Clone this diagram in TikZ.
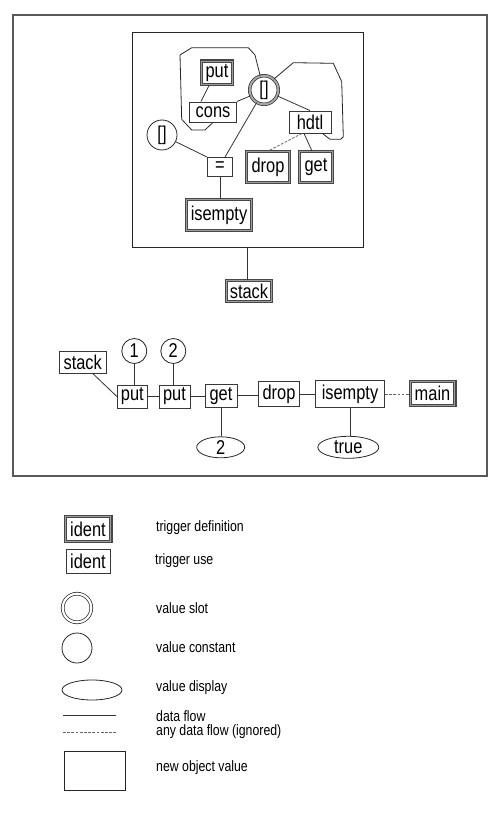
\documentclass[tikz,border=0pt]{standalone}
\usepackage{fontspec}
\setmainfont{Liberation Sans}[FakeStretch=0.82]
\usetikzlibrary{shapes.geometric}
\newcommand{\lblfont}{\fontsize{20}{22}\selectfont}
\newcommand{\legfont}{\fontsize{15}{17}\selectfont}
\tikzset{
  usebox/.style={draw=black!78, line width=0.9pt, inner sep=0pt, fill=white, font=\lblfont},
  defbox/.style={draw=black!72, line width=1.2pt, double=black!38, double distance=0.9pt, inner sep=0pt, fill=white, font=\lblfont},
  slotc/.style={circle, draw=black!80, line width=0.7pt, double=black!35, double distance=2pt, inner sep=0pt, minimum size=28.6, font=\lblfont},
  constc/.style={circle, draw=black!85, line width=0.8pt, inner sep=0pt, font=\lblfont},
  dispe/.style={ellipse, draw=black!85, line width=0.8pt, inner sep=0pt, font=\lblfont},
  objbox/.style={draw=black!85, line width=0.9pt, inner sep=0pt},
  frame/.style={draw=black!65, line width=1.1pt, inner sep=0pt},
  flow/.style={draw=black!80, line width=0.8pt},
  anyflow/.style={draw=black!60, line width=0.8pt, dash pattern=on 2.7pt off 1.5pt},
  blob/.style={draw=black!85, line width=0.8pt},
  legtext/.style={anchor=west, font=\legfont, inner sep=0pt},
}
\begin{document}
\begin{tikzpicture}[x=1pt,y=-1pt]
\useasboundingbox (0,0) rectangle (500,818);
% frames
\node[frame, minimum width=474, minimum height=461] (outer) at (250,245.5) {};
\node[objbox, minimum width=231, minimum height=215] (inner) at (247.5,139.5) {};
% top nodes
\node[defbox, minimum width=30.7, minimum height=23.7] (put) at (217,73) {put};
\node[usebox, minimum width=47, minimum height=20] (cons) at (213,112) {cons};
\node[slotc] (slot) at (264,90) {[]};
\node[usebox, minimum width=42, minimum height=22] (hdtl) at (310,122) {hdtl};
\node[constc, minimum size=30] (const) at (162,135) {[]};
\node[usebox, minimum width=25, minimum height=19] (eq) at (220,167) {=};
\node[defbox, minimum width=42.7, minimum height=30.7] (drop) at (268,167) {drop};
\node[defbox, minimum width=32.7, minimum height=30.7] (get) at (316,167) {get};
\node[defbox, minimum width=64.7, minimum height=30.7] (isempty) at (219,215) {isempty};
\node[defbox, minimum width=44.7, minimum height=20.7] (stackdef) at (249,291) {stack};
% blobs
\draw[blob] (cons.south) -- (205,130) -- (191.7,130) -- (181.7,119.3) -- (180,55) -- (191.7,47.7) -- (248.3,47.7) -- (255,55) -- (slot.105);
\draw[blob] (slot.48) -- (293.3,62.7) -- (333.3,63.3) -- (341.7,81.7) -- (343.3,136.7) -- (340.7,139.3) -- (330,139.3) -- ([xshift=-9]hdtl.south east);
% top edges
\draw[flow] ([xshift=-8]put.south) -- ([xshift=-12]cons.north);
\draw[flow] (cons.north east) -- (slot);
\draw[flow] (slot) -- (hdtl.north);
\draw[flow] (slot) -- ([xshift=5]eq.north);
\draw[flow] (const) -- (eq.north west);
\draw[flow] (eq.south) -- (eq.south |- isempty.north);
\draw[anyflow] ([xshift=-8]hdtl.south) -- (drop.north);
\draw[flow] ([xshift=-6]hdtl.south) -- ([xshift=-4]get.north);
\draw[flow] (inner.south) -- (inner.south |- stackdef.north);
% bottom chain
\node[usebox, minimum width=47, minimum height=22] (stackuse) at (82.7,362) {stack};
\node[constc, minimum size=25] (c1) at (134.3,351) {1};
\node[constc, minimum size=25] (c2) at (173.3,351) {2};
\node[usebox, minimum width=30, minimum height=23] (putA) at (132.3,396.5) {put};
\node[usebox, minimum width=31, minimum height=23] (putB) at (174.5,396.5) {put};
\node[usebox, minimum width=32, minimum height=23] (getB) at (221,395.7) {get};
\node[usebox, minimum width=41, minimum height=25] (dropB) at (279,394.2) {drop};
\node[usebox, minimum width=69, minimum height=27] (isemptyB) at (350,394) {isempty};
\node[defbox, minimum width=44.7, minimum height=23.7] (main) at (432.5,393.3) {main};
\node[dispe, minimum width=48, minimum height=21] (e2) at (220.7,447.3) {2};
\node[dispe, minimum width=61, minimum height=22] (etrue) at (348.3,447.3) {true};
\draw[flow] ([xshift=10]stackuse.south) -- (putA.west);
\draw[flow] (c1) -- (c1 |- putA.north);
\draw[flow] (c2) -- (c2 |- putB.north);
\draw[flow] (putA.east) -- (putA.east -| putB.west);
\draw[flow] (putB.east) -- (putB.east -| getB.west);
\draw[flow] (getB.east) -- (getB.east -| dropB.west);
\draw[flow] (dropB.east) -- (dropB.east -| isemptyB.west);
\draw[anyflow] (isemptyB.east) -- (isemptyB.east -| main.west);
\draw[flow] (getB.south) -- (getB.south |- e2.north);
\draw[flow] (isemptyB.south) -- (isemptyB.south |- etrue.north);
% legend
\node[defbox, minimum width=45.7, minimum height=24.7] (L1) at (88,529) {ident};
\node[usebox, minimum width=44, minimum height=24] (L2) at (88,561) {ident};
\node[circle, draw=black!85, line width=0.7pt, double=white, double distance=2.2pt, inner sep=0pt, minimum size=28.6] (L3) at (77,608) {};
\node[constc, minimum size=30] (L4) at (77,648) {};
\node[dispe, minimum width=60, minimum height=20] (L5) at (92,690) {};
\coordinate (s1) at (63,715.5);
\coordinate (s2) at (116,715.5);
\coordinate (d1) at (63,732.5);
\coordinate (d2) at (116,732.5);
\draw[flow] (s1) -- (s2);
\draw[anyflow] (d1) -- (d2);
\node[objbox, minimum width=61, minimum height=38.3] (L8) at (95,771) {};
\node[legtext] (T1) at (156,528) {trigger definition};
\node[legtext] (T2) at (155,561) {trigger use};
\node[legtext] (T3) at (156,608) {value slot};
\node[legtext] (T4) at (156,647) {value constant};
\node[legtext] (T5) at (156,688) {value display};
\node[legtext] (T6) at (156,716) {data flow};
\node[legtext] (T7) at (156,731.5) {any data flow (ignored)};
\node[legtext] (T8) at (156,768) {new object value};
\end{tikzpicture}
\end{document}
